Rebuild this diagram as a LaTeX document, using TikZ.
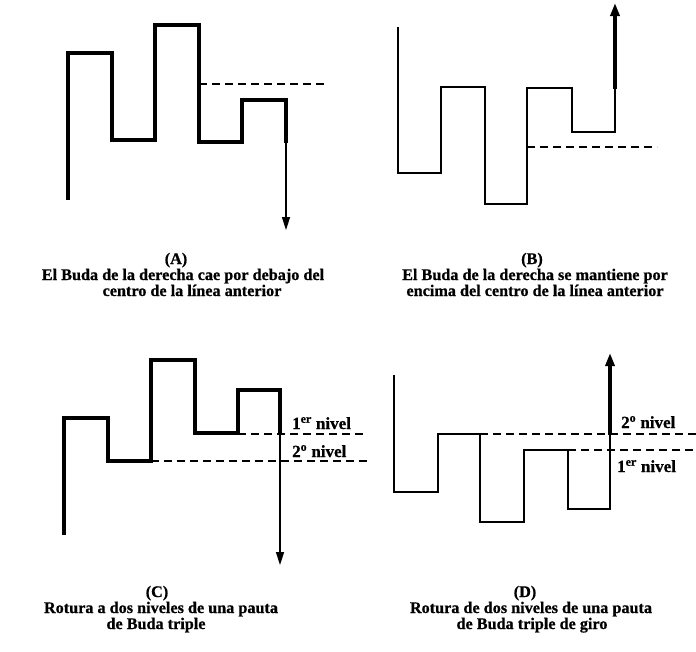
\documentclass[tikz,border=0pt]{standalone}
\usepackage{fontspec}
\setmainfont{Liberation Serif}[BoldFeatures={FakeBold=0.8}]
\usetikzlibrary{arrows.meta}
\begin{document}
\begin{tikzpicture}[x=1pt,y=-1pt,
  bar/.style={line width=4.8pt, line join=miter},
  thinbar/.style={line width=1.9pt, line join=miter},
  shaft/.style={line width=1.5pt},
  thickshaft/.style={line width=4pt},
  level/.style={line width=1.5pt, dash pattern=on 8pt off 5pt},
  captxt/.style={font=\bfseries\fontsize{16.2}{15}\selectfont, inner sep=0pt, anchor=base},
  lvl/.style={font=\bfseries\fontsize{17}{15}\selectfont, inner sep=0pt, anchor=base west},
  tipA/.style={-{Triangle[width=8pt,length=13pt]}},
]
\useasboundingbox (0,0) rectangle (696,651);

% ---------- Panel A ----------
\draw[bar] (68,200) -- (68,53) -- (112,53) -- (112,140) -- (155,140) -- (155,25)
  -- (199,25) -- (199,142) -- (242,142) -- (242,100) -- (286,100) -- (286,143);
\coordinate (aS) at (286,141);
\coordinate (aE) at (286,230);
\draw[shaft,tipA] (aS) -- (aE);
\coordinate (aL) at (199,84);
\coordinate (aR) at (328,84);
\draw[level] (aL) -- (aR);
\node[captxt] (capA1) at (176,264) {(A)};
\node[captxt] (capA2) at (183,280) {El Buda de la derecha cae por debajo del};
\node[captxt] (capA3) at (192,296) {centro de la línea anterior};

% ---------- Panel B ----------
\draw[thinbar] (398,27) -- (398,173) -- (441,173) -- (441,87) -- (485,87) -- (485,204)
  -- (527,204) -- (527,88) -- (572,88) -- (572,132) -- (615,132) -- (615,87);
\coordinate (bS) at (615,89);
\coordinate (bE) at (615,3);
\draw[thickshaft,-{Triangle[width=9pt,length=13pt]}] (bS) -- (bE);
\coordinate (bL) at (527,147);
\coordinate (bR) at (657,147);
\draw[level] (bL) -- (bR);
\node[captxt] (capB1) at (532,264) {(B)};
\node[captxt] (capB2) at (535,280) {El Buda de la derecha se mantiene por};
\node[captxt] (capB3) at (535,296) {encima del centro de la línea anterior};

% ---------- Panel C ----------
\draw[bar] (64,535) -- (64,418) -- (108,418) -- (108,461) -- (151,461) -- (151,360)
  -- (195,360) -- (195,433) -- (238,433) -- (238,390) -- (280,390) -- (280,434);
\coordinate (cS) at (280,432);
\coordinate (cE) at (280,565);
\draw[shaft,tipA] (cS) -- (cE);
\coordinate (c1L) at (238,434);
\coordinate (c1R) at (367,434);
\coordinate (c2L) at (151,461);
\coordinate (c2R) at (367,461);
\draw[level] (c1L) -- (c1R);
\draw[level] (c2L) -- (c2R);
\node[lvl] (c1lab) at (292,429) {1\textsuperscript{er} nivel};
\node[lvl] (c2lab) at (292,457) {2\textsuperscript{o} nivel};
\node[captxt] (capC1) at (157,597) {(C)};
\node[captxt] (capC2) at (161,613) {Rotura a dos niveles de una pauta};
\node[captxt] (capC3) at (156,629) {de Buda triple};

% ---------- Panel D ----------
\draw[thinbar] (394,375) -- (394,492) -- (438,492) -- (438,434) -- (480,434) -- (480,522)
  -- (524,522) -- (524,450) -- (568,450) -- (568,509) -- (610,509) -- (610,433);
\coordinate (dS) at (610,435);
\coordinate (dE) at (610,353);
\draw[thickshaft,-{Triangle[width=9pt,length=13pt]}] (dS) -- (dE);
\coordinate (d2L) at (480,434);
\coordinate (d2R) at (696,434);
\coordinate (d1L) at (568,450);
\coordinate (d1R) at (696,450);
\draw[level] (d2L) -- (d2R);
\draw[level] (d1L) -- (d1R);
\node[lvl] (d2lab) at (621,428) {2\textsuperscript{o} nivel};
\node[lvl] (d1lab) at (617,472) {1\textsuperscript{er} nivel};
\node[captxt] (capD1) at (525,597) {(D)};
\node[captxt] (capD2) at (531,613) {Rotura de dos niveles de una pauta};
\node[captxt] (capD3) at (532,629) {de Buda triple de giro};
\end{tikzpicture}
\end{document}
